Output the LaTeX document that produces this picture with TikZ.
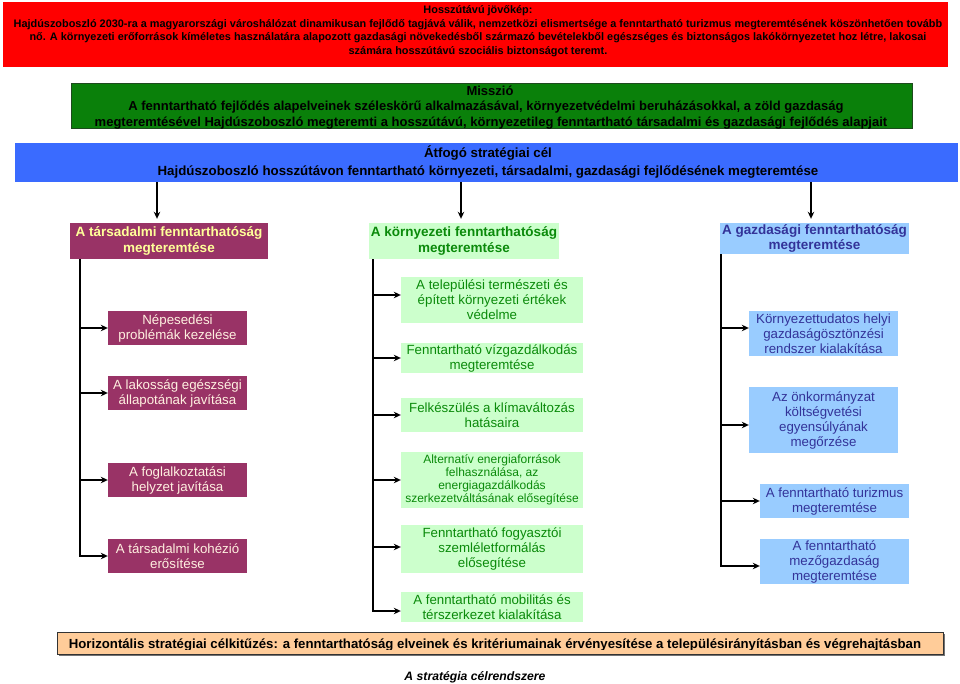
\documentclass[tikz,border=0pt]{standalone}
\usepackage{fontspec}
\setmainfont{Liberation Sans}
\usetikzlibrary{arrows.meta,shadows}
\definecolor{visred}{HTML}{FF0000}
\definecolor{misgreen}{HTML}{0A800A}
\definecolor{misborder}{HTML}{1E4A1E}
\definecolor{goalblue}{HTML}{3A6BFF}
\definecolor{socfill}{HTML}{993366}
\definecolor{soctext}{HTML}{FFFF99}
\definecolor{socleaf}{HTML}{FFF0E0}
\definecolor{envfill}{HTML}{CCFFCC}
\definecolor{envtext}{HTML}{0A8A0A}
\definecolor{ecofill}{HTML}{99CCFF}
\definecolor{ecotext}{HTML}{333399}
\definecolor{horfill}{HTML}{FFCC99}
\tikzset{
  linetxt/.style={inner sep=0pt, anchor=base},
  redtxt/.style={linetxt, font=\fontsize{10.9}{13}\selectfont\bfseries},
  grntxt/.style={linetxt, font=\fontsize{13}{15}\selectfont\bfseries},
  bluetxt/.style={linetxt, font=\fontsize{13.3}{16}\selectfont\bfseries},
  hortxt/.style={linetxt, font=\fontsize{13.2}{16}\selectfont\bfseries},
  lvlbox/.style={inner sep=0pt, align=center, font=\fontsize{13.5}{15.5}\selectfont\bfseries},
  leafbox/.style={inner sep=0pt, align=center, font=\fontsize{13.3}{15}\selectfont},
  socstyle/.style={fill=socfill, text=soctext},
  socleafstyle/.style={fill=socfill, text=socleaf},
  envstyle/.style={fill=envfill, text=envtext},
  ecostyle/.style={fill=ecofill, text=ecotext},
  conn/.style={line width=1.8pt, -{Stealth[length=7pt,width=6.5pt]}},
}
\begin{document}
\begin{tikzpicture}[x=1pt,y=-1pt]
\useasboundingbox (0,0) rectangle (960,684);
\fill[white] (0,0) rectangle (960,684);

% ---- Vision (red) ----
\node[fill=visred, inner sep=0pt, minimum width=945pt, minimum height=65pt, anchor=north west] (vision) at (3,2) {};
\node[redtxt] (v1) at (478,14) {Hosszútávú jövőkép:};
\node[redtxt] (v2) at (478,27.5) {Hajdúszoboszló 2030-ra a magyarországi városhálózat dinamikusan fejlődő tagjává válik, nemzetközi elismertsége a fenntartható turizmus megteremtésének köszönhetően tovább};
\node[redtxt] (v3) at (478,41) {nő. A környezeti erőforrások kíméletes használatára alapozott gazdasági növekedésből származó bevételekből egészséges és biztonságos lakókörnyezetet hoz létre, lakosai};
\node[redtxt] (v4) at (478,54.5) {számára hosszútávú szociális biztonságot teremt.};

% ---- Mission (green) ----
\node[fill=misgreen, draw=misborder, line width=0.8pt, inner sep=0pt, minimum width=841pt, minimum height=45pt, anchor=north west] (mission) at (71,83) {};
\begin{scope}
  \clip (mission.north west) rectangle (mission.south east);
  \node[grntxt] (m1) at (490,96) {Misszió};
  \node[grntxt] (m2) at (486,111) {A fenntartható fejlődés alapelveinek széleskörű alkalmazásával, környezetvédelmi beruházásokkal, a zöld gazdaság};
  \node[grntxt] (m3) at (491,126.3) {megteremtésével Hajdúszoboszló megteremti a hosszútávú, környezetileg fenntartható társadalmi és gazdasági fejlődés alapjait};
\end{scope}

% ---- Overall goal (blue) ----
\node[fill=goalblue, inner sep=0pt, minimum width=943pt, minimum height=39pt, anchor=north west] (goal) at (15,143) {};
\node[bluetxt] (g1) at (488,157.5) {Átfogó stratégiai cél};
\node[bluetxt] (g2) at (488,175.5) {Hajdúszoboszló hosszútávon fenntartható környezeti, társadalmi, gazdasági fejlődésének megteremtése};

% ---- Level 2 ----
\node[lvlbox, socstyle, minimum width=198pt, minimum height=36pt] (S) at (169,241) {A társadalmi fenntarthatóság\\megteremtése};
\node[lvlbox, envstyle, minimum width=190pt, minimum height=36pt] (E) at (464,241) {A környezeti fenntarthatóság\\megteremtése};
\node[lvlbox, ecostyle, minimum width=189pt, minimum height=31pt] (K) at (814.5,238.5) {A gazdasági fenntarthatóság\\megteremtése};

\draw[conn, shorten >=4pt] ([xshift=-12pt]S.north |- goal.south) -- ([xshift=-12pt]S.north);
\draw[conn, shorten >=4pt] ([xshift=-3pt]E.north |- goal.south) -- ([xshift=-3pt]E.north);
\draw[conn, shorten >=4pt] ([xshift=-3.5pt]K.north |- goal.south) -- ([xshift=-3.5pt]K.north);

% ---- Social leaves ----
\node[leafbox, socleafstyle, minimum width=139pt, minimum height=34pt] (L1) at (177.5,328) {Népesedési\\problémák kezelése};
\node[leafbox, socleafstyle, minimum width=139pt, minimum height=34pt] (L2) at (177.5,393) {A lakosság egészségi\\állapotának javítása};
\node[leafbox, socleafstyle, minimum width=139pt, minimum height=34pt] (L3) at (177.5,480) {A foglalkoztatási\\helyzet javítása};
\node[leafbox, socleafstyle, minimum width=139pt, minimum height=34pt] (L4) at (177.5,556) {A társadalmi kohézió\\erősítése};

\coordinate (Ltop) at ([xshift=10pt]S.south west);
\foreach \n in {L1,L2,L3,L4} \draw[conn] (Ltop) |- (\n.west);

% ---- Environmental leaves ----
\node[leafbox, envstyle, minimum width=182pt, minimum height=46pt] (M1) at (492,300) {A települési természeti és\\épített környezeti értékek\\védelme};
\node[leafbox, envstyle, minimum width=182pt, minimum height=30pt] (M2) at (492,358) {Fenntartható vízgazdálkodás\\megteremtése};
\node[leafbox, envstyle, minimum width=182pt, minimum height=34pt] (M3) at (492,415) {Felkészülés a klímaváltozás\\hatásaira};
\node[leafbox, envstyle, minimum width=182pt, minimum height=56pt, font=\fontsize{12}{12.8}\selectfont] (M4) at (492,480) {Alternatív energiaforrások\\felhasználása, az\\energiagazdálkodás\\szerkezetváltásának elősegítése};
\node[leafbox, envstyle, minimum width=182pt, minimum height=48pt] (M5) at (492,549) {Fenntartható fogyasztói\\szemléletformálás\\elősegítése};
\node[leafbox, envstyle, minimum width=182pt, minimum height=30pt] (M6) at (492,607) {A fenntartható mobilitás és\\térszerkezet kialakítása};

\coordinate (Mtop) at ([xshift=4pt]E.south west);
\draw[conn] (Mtop) |- ([yshift=5pt]M1.west);
\draw[conn] (Mtop) |- (M2.west);
\draw[conn] (Mtop) |- (M3.west);
\draw[conn] (Mtop) |- (M4.west);
\draw[conn] (Mtop) |- ([yshift=2pt]M5.west);
\draw[conn] (Mtop) |- ([yshift=-4pt]M6.west);

% ---- Economic leaves ----
\node[leafbox, ecostyle, minimum width=149pt, minimum height=45pt] (R1) at (823.5,333.5) {Környezettudatos helyi\\gazdaságösztönzési\\rendszer kialakítása};
\node[leafbox, ecostyle, minimum width=149pt, minimum height=66pt] (R2) at (823.5,420) {Az önkormányzat\\költségvetési\\egyensúlyának\\megőrzése};
\node[leafbox, ecostyle, minimum width=149pt, minimum height=34pt] (R3) at (834.5,501) {A fenntartható turizmus\\megteremtése};
\node[leafbox, ecostyle, minimum width=149pt, minimum height=45pt] (R4) at (834.5,561.5) {A fenntartható\\mezőgazdaság\\megteremtése};

\coordinate (Rtop) at ([xshift=1pt]K.south west);
\draw[conn] (Rtop) |- ([yshift=5.5pt]R1.west);
\draw[conn] (Rtop) |- ([yshift=-5pt]R2.west);
\draw[conn] (Rtop) |- (R3.west);
\draw[conn] (Rtop) |- ([yshift=-4.5pt]R4.west);

% ---- Horizontal objective ----
\node[fill=horfill, draw=black!80, line width=0.8pt, inner sep=0pt, minimum width=886pt, minimum height=22pt,
      drop shadow={shadow xshift=2pt, shadow yshift=-2pt, fill=black!55, opacity=1}] (H) at (500,643) {};
\begin{scope}
  \clip (H.north west) rectangle ([yshift=5pt]H.south east);
  \node[hortxt] (h1) at (495,648) {Horizontális stratégiai célkitűzés: a fenntarthatóság elveinek és kritériumainak érvényesítése a településirányításban és végrehajtásban};
\end{scope}

% ---- Caption ----
\node[linetxt, font=\fontsize{12.2}{14}\selectfont\bfseries\itshape] (cap) at (475,680) {A stratégia célrendszere};
\end{tikzpicture}
\end{document}
